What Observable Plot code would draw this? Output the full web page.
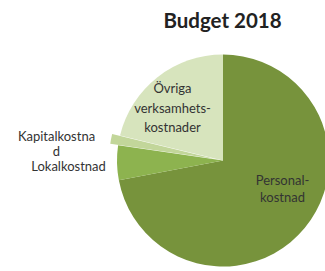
<!DOCTYPE html>
<html><head><meta charset="utf-8">
<script src="https://cdn.jsdelivr.net/npm/d3@7"></script>
<script src="https://cdn.jsdelivr.net/npm/@observablehq/plot@0.6"></script>
<style>body{margin:0;background:#fff} svg{display:block}</style>
</head><body><div id="chart"></div>
<script>
// ---- data ----
const categories = ["Personalkostnad", "Lokalkostnad", "Kapitalkostnad", "Övriga verksamhetskostnader"];
const values = [72.0, 5.3, 1.5, 21.2];
const labels = ["Personal-\nkostnad", "Lokalkostnad", "Kapitalkostna\nd", "Övriga\nverksamhets-\nkostnader"];
const colors = ["#77933c", "#8db34f", "#c2d69a", "#d7e4bd"];
const title = "Budget 2018";

// ---- layout ----
const W = 325, H = 271;
const cx = 223, cy = 160.5, R = 106;
const explode = [0, 0, 8, 0];
const labelLayout = [
  {x: 282, y: 188, lh: 1.3, size: 13},
  {x: 68, y: 165.5, lh: 1.2, size: 13},
  {x: 56, y: 143, lh: 1.15, size: 13},
  {x: 172, y: 106, lh: 1.5, size: 13}
];

const slices = categories.map((c, i) => ({category: c, value: values[i], label: labels[i], explode: explode[i], ...labelLayout[i]}));

function pieMark(index, scales) {
  const sx = scales.x, sy = scales.y;
  const color = scales.color || d3.scaleOrdinal(categories, colors);
  const r = sx(cx + R) - sx(cx);
  const arcs = d3.pie().sort(null).value(d => d.value)(slices);
  const arc = d3.arc().innerRadius(0).outerRadius(r);
  const g = d3.create("svg:g");
  g.selectAll("path").data(arcs).join("path")
    .attr("d", arc)
    .attr("fill", d => color(d.data.category))
    .attr("transform", d => {
      const m = (d.startAngle + d.endAngle) / 2, o = d.data.explode;
      return `translate(${sx(cx) + o * Math.sin(m)},${sy(cy) - o * Math.cos(m)})`;
    });
  return g.node();
}

const textMarks = slices.map(s => Plot.text([s], {
  x: "x", y: "y", text: "label", fontSize: s.size, lineHeight: s.lh,
  textAnchor: "middle", lineAnchor: "middle", fill: "#333"
}));

const chart = Plot.plot({
  width: W, height: H,
  margin: 0,
  style: {fontFamily: "Lato, 'Open Sans', sans-serif", background: "#fff"},
  x: {domain: [0, W], range: [0, W], axis: null},
  y: {domain: [0, H], range: [0, H], axis: null},
  color: {domain: categories, range: colors},
  marks: [
    Plot.dot(slices, {x: () => cx, y: () => cy, fill: "category", r: 0}),
    pieMark,
    ...textMarks,
    Plot.text([title], {x: () => 222, y: () => 20.5, text: d => d, fontSize: 20.5, fontWeight: "bold", fill: "#222", lineAnchor: "middle"})
  ]
});
document.getElementById("chart").append(chart);
</script>
</body></html>
